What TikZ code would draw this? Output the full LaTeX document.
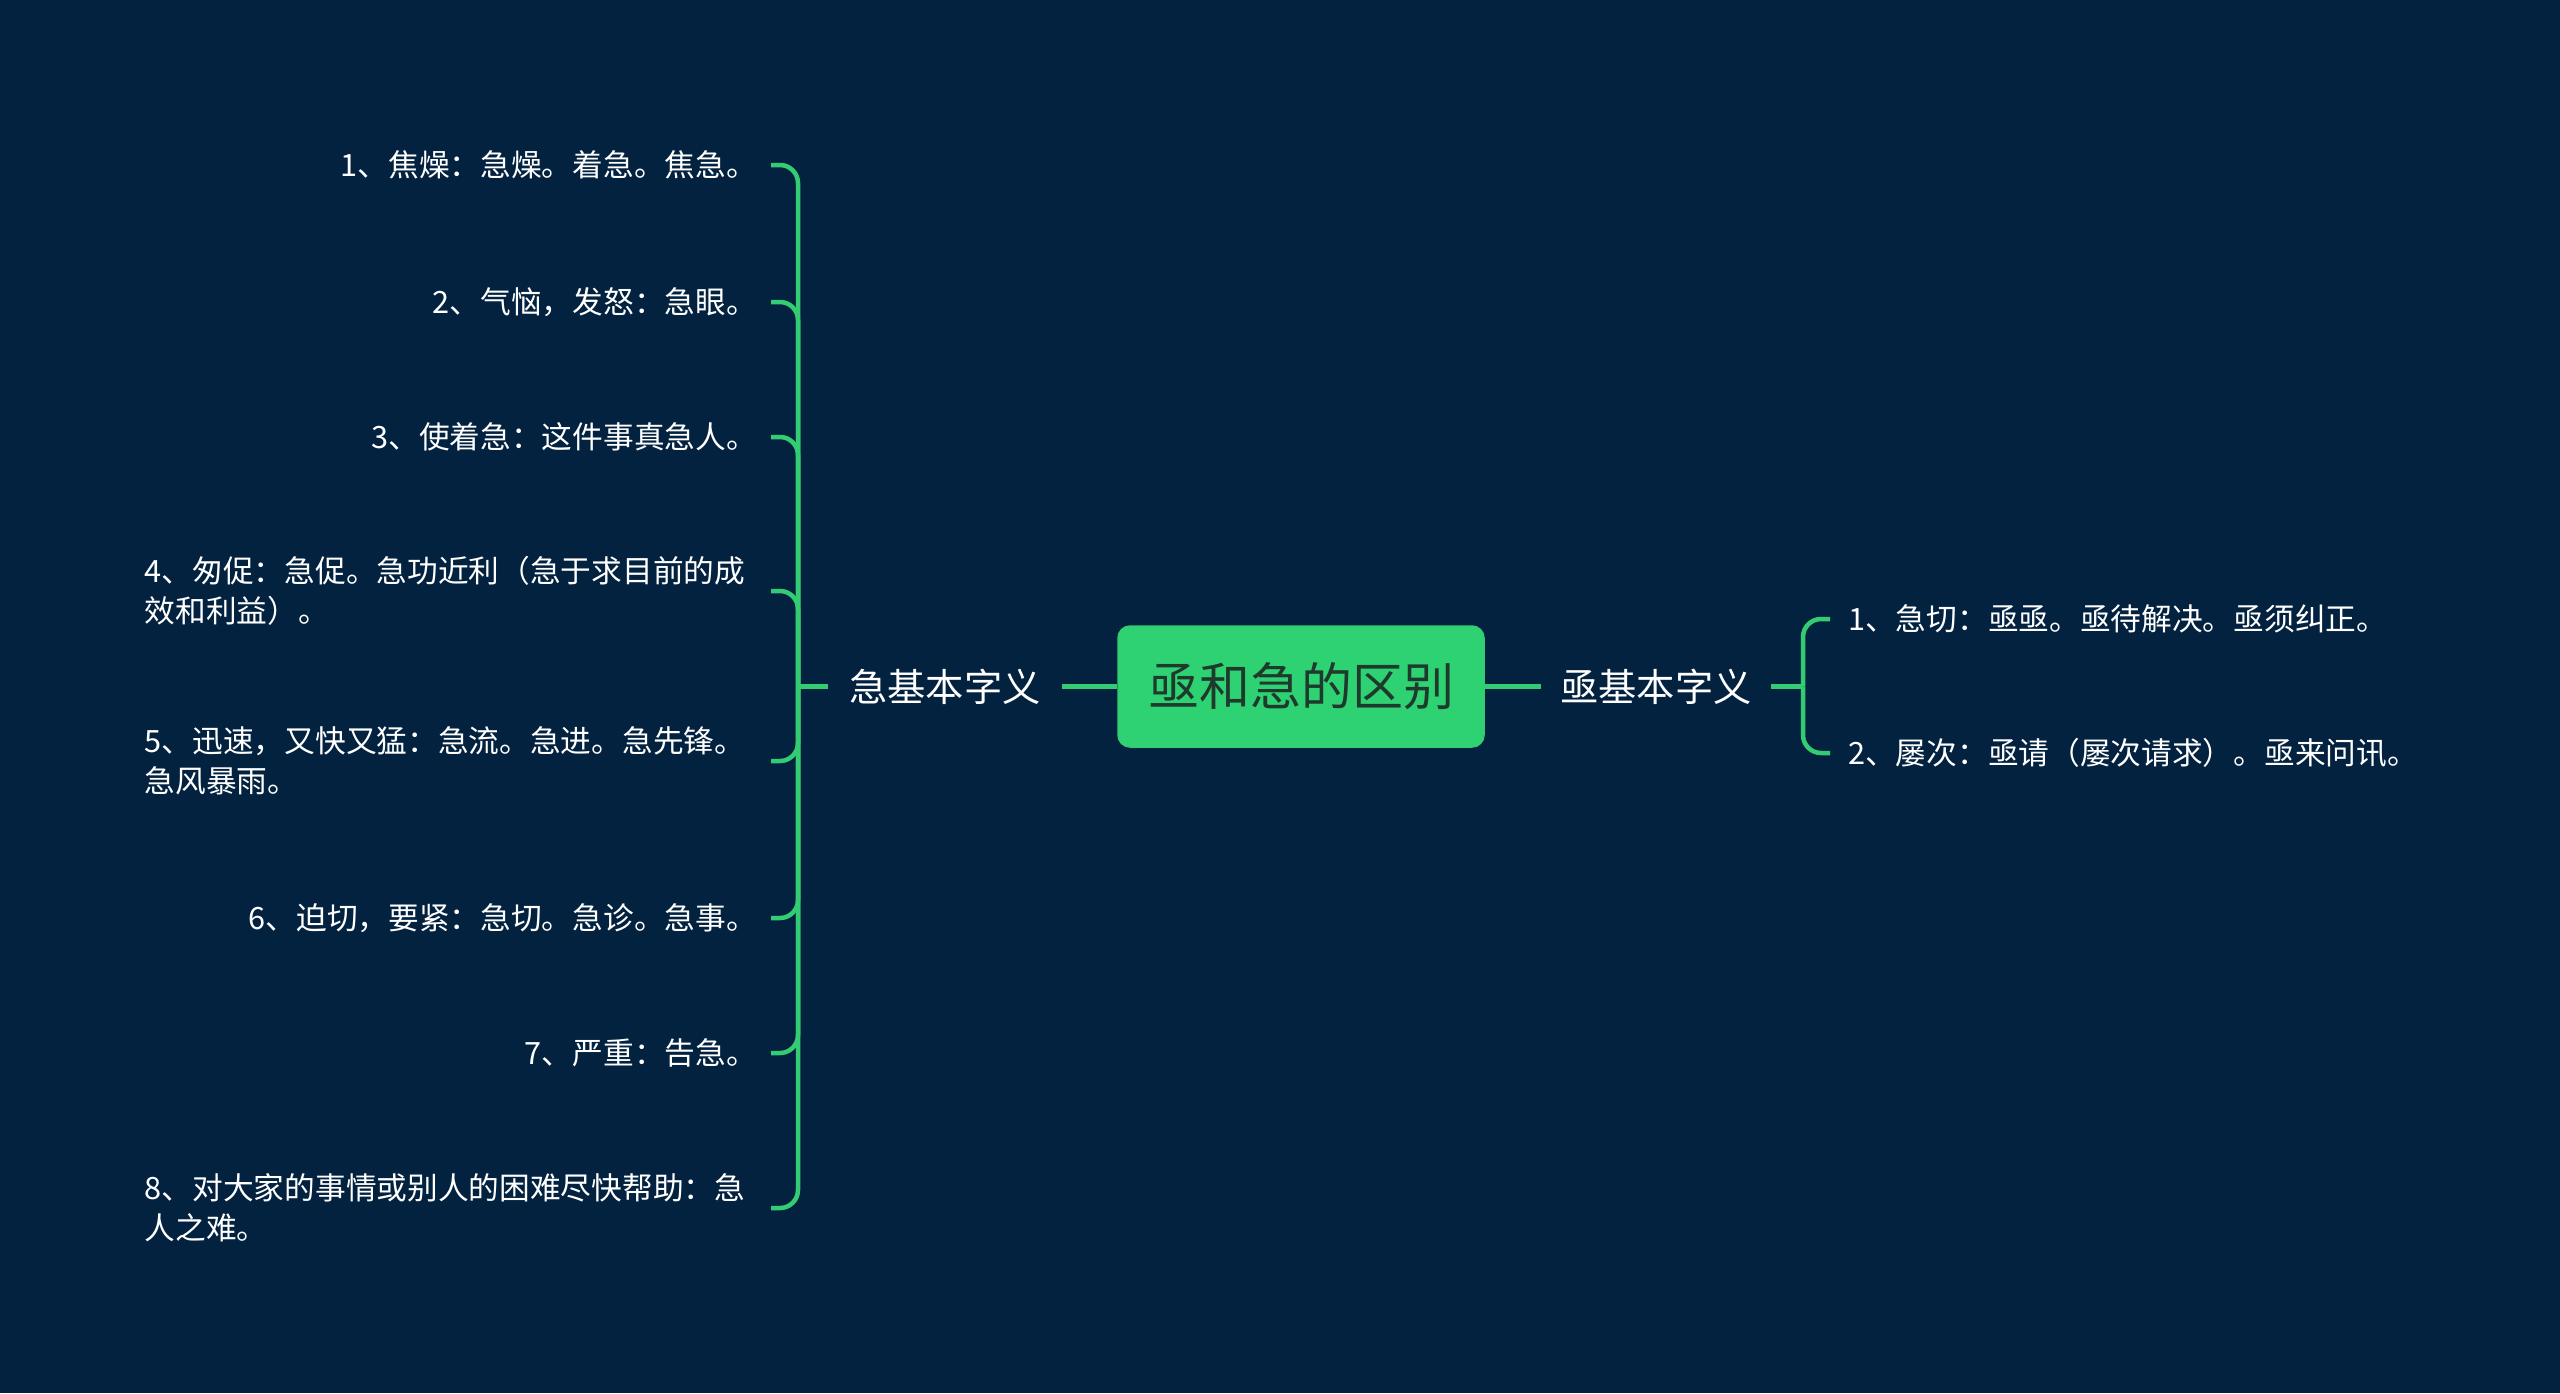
\documentclass[tikz,border=0pt]{standalone}
\usepackage{fontspec}
\setmainfont{Noto Sans CJK SC}
\usetikzlibrary{positioning}
\definecolor{MapBackground}{HTML}{02223F}
\definecolor{MapGreen}{HTML}{33CC72}
\definecolor{MapRootFill}{HTML}{2FD272}
\definecolor{MapRootText}{HTML}{1D3A2C}
\tikzset{
  rootbox/.style={fill=MapRootFill, draw=MapGreen, line width=1.5pt, rounded corners=12pt,
    minimum width=366pt, minimum height=121pt, text=MapRootText, font=\fontsize{51}{60}\selectfont},
  subject/.style={text=white, inner xsep=21pt, inner ysep=0pt, font=\fontsize{38.3}{46}\selectfont},
  leaf/.style={text=white, inner ysep=0pt, align=left, font=\fontsize{30.7}{40}\selectfont},
  wrapped/.style={text width=612pt},
  branch/.style={draw=MapGreen, line width=4.5pt, rounded corners=18pt}
}
\begin{document}
\begin{tikzpicture}[x=1pt, y=-1pt]

    % Background
    \fill[MapBackground] (0,0) rectangle (2560,1393);
    \useasboundingbox (0,0) rectangle (2560,1393);

    % Root
    \node[rootbox] (root) at (1301,686.5) {亟和急的区别};

    % Left subject
    \node[subject, anchor=east] (jiL) at (1062,686.5) {急基本字义};
    \coordinate (lfork) at (798,686.5);
    \node[leaf, anchor=east, inner xsep=14pt] (a1) at (771,165) {1、焦燥：急燥。着急。焦急。};
    \node[leaf, anchor=east, inner xsep=14pt] (a2) at (771,302) {2、气恼，发怒：急眼。};
    \node[leaf, anchor=east, inner xsep=14pt] (a3) at (771,437) {3、使着急：这件事真急人。};
    \node[leaf, wrapped, anchor=east, inner xsep=14pt] (a4) at (771,591) {4、匆促：急促。急功近利（急于求目前的成\\效和利益）。};
    \node[leaf, wrapped, anchor=east, inner xsep=14pt] (a5) at (771,761) {5、迅速，又快又猛：急流。急进。急先锋。\\急风暴雨。};
    \node[leaf, anchor=east, inner xsep=14pt] (a6) at (771,918) {6、迫切，要紧：急切。急诊。急事。};
    \node[leaf, anchor=east, inner xsep=14pt] (a7) at (771,1053) {7、严重：告急。};
    \node[leaf, wrapped, anchor=east, inner xsep=14pt] (a8) at (771,1208) {8、对大家的事情或别人的困难尽快帮助：急\\人之难。};

    % Right subject
    \node[subject, anchor=west, inner xsep=19pt] (jiR) at (1541,686.5) {亟基本字义};
    \coordinate (rfork) at (1803,686.5);
    \node[leaf, anchor=west, inner xsep=18pt] (b1) at (1830,619) {1、急切：亟亟。亟待解决。亟须纠正。};
    \node[leaf, anchor=west, inner xsep=18pt] (b2) at (1830,753) {2、屡次：亟请（屡次请求）。亟来问讯。};

    % Connectors
    \draw[branch] (root.west) -- (jiL.east);
    \draw[branch] (jiL.west) -- (lfork);
    \foreach \n in {1,...,8}
        \draw[branch] (lfork) |- (a\n.east);
    \draw[branch] (root.east) -- (jiR.west);
    \draw[branch] (jiR.east) -- (rfork);
    \foreach \n in {1,2}
        \draw[branch] (rfork) |- (b\n.west);

\end{tikzpicture}
\end{document}
